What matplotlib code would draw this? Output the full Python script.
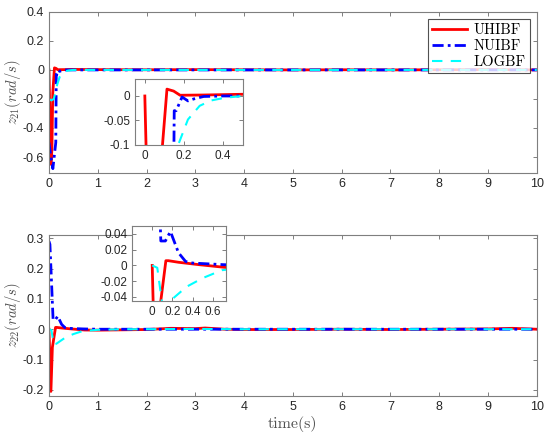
import matplotlib
matplotlib.use("Agg")
import matplotlib.pyplot as plt

plt.rcParams['font.family'] = ['Liberation Sans', 'DejaVu Sans']
plt.rcParams['mathtext.fontset'] = 'cm'
plt.rcParams['axes.unicode_minus'] = False

# ---- data: z21 ----
t21_red = [0, 0.04, 0.06, 0.078, 0.113, 0.147, 0.18, 0.3, 0.5, 1, 2, 3, 4, 5, 6, 7, 8, 9, 10]
z21_red = [0, -0.65, -0.55, -0.16, 0.014, 0.01, 0.0015, 0.002, 0.0035, 0.002, 0.001, 0.002, 0.001, 0.0, 0.001, 0.0, 0.001, 0.002, 0.0]
t21_blue = [0, 0.04, 0.08, 0.14, 0.15, 0.16, 0.19, 0.22, 0.25, 0.3, 0.4, 1, 2, 3, 4, 5, 6, 7, 8, 9, 10]
z21_blue = [-0.5, -0.6, -0.68, -0.5, -0.03, -0.03, -0.002, -0.01, -0.006, -0.001, 0.0, 0.0, 0.0, 0.0, 0.0, 0.0, 0.0, 0.0, 0.0, 0.0, 0.0]
t21_cyan = [0, 0.05, 0.1, 0.17, 0.22, 0.28, 0.34, 0.41, 0.5, 1, 2, 3, 4, 5, 6, 7, 8, 9, 10]
z21_cyan = [-0.2, -0.21, -0.2, -0.1, -0.048, -0.02, -0.009, -0.0035, 0.0, 0.0, 0.0, 0.0, 0.0, 0.0, 0.0, 0.0, 0.0, 0.0, 0.0]

# ---- data: z22 ----
t22_red = [0, 0.04, 0.07, 0.135, 0.16, 0.26, 0.46, 0.73, 1, 1.5, 2, 2.5, 3, 3.2, 3.6, 4, 5, 6, 7, 8, 9, 9.5, 10]
z22_red = [0, -0.205, -0.06, 0.006, 0.006, 0.004, 0.001, -0.0026, -0.003, -0.002, -0.001, 0.003, 0.002, 0.004, 0.0, -0.001, -0.001, 0.0, -0.001, 0.0, 0.001, 0.003, 0.0]
t22_blue = [0, 0.02, 0.085, 0.13, 0.18, 0.26, 0.33, 0.4, 0.7, 1, 2, 3, 4, 5, 6, 7, 8, 9, 10]
z22_blue = [0.29, 0.28, 0.031, 0.031, 0.043, 0.016, 0.005, 0.003, 0.001, 0.0, 0.0, 0.0, 0.0, 0.0, 0.0, 0.0, 0.0, 0.0, 0.0]
t22_cyan = [0, 0.05, 0.1, 0.15, 0.34, 0.5, 0.69, 1, 1.5, 2, 3, 4, 5, 6, 7, 8, 9, 10]
z22_cyan = [0, -0.003, -0.05, -0.048, -0.027, -0.016, -0.006, -0.002, 0.0, 0.0, 0.001, 0.0, 0.0, 0.0, 0.0, 0.0, 0.0, 0.0]

labels = ['UHIBF', 'NUIBF', 'LOGBF']
xticks = list(range(0, 11))

GRAY = '#262626'
SPINE = '#7f7f7f'
LABC = '#505050'

def style(ax, fs=9):
    for s in ax.spines.values():
        s.set_color(SPINE)
        s.set_linewidth(0.8)
    ax.tick_params(direction='in', top=True, right=True, colors=SPINE,
                   labelcolor=GRAY, labelsize=fs, length=3, width=0.7)

def draw(ax, data):
    (tr, yr), (tb, yb), (tc, yc) = data
    ax.plot(tr, yr, color='#ff0000', lw=2.0, ls='-', label=labels[0])
    ax.plot(tb, yb, color='#0000ff', lw=2.0, ls=(0, (4, 1.5, 1, 1.5)), label=labels[1])
    ax.plot(tc, yc, color='#00ffff', lw=1.5, ls=(0, (5, 4)), label=labels[2])

fig = plt.figure(figsize=(5.5, 4.38), dpi=100)

d21 = [(t21_red, z21_red), (t21_blue, z21_blue), (t21_cyan, z21_cyan)]
d22 = [(t22_red, z22_red), (t22_blue, z22_blue), (t22_cyan, z22_cyan)]

ax1 = fig.add_axes([0.089, 0.605, 0.887, 0.368])
draw(ax1, d21)
ax1.set_xlim(0, 10)
ax1.set_ylim(-0.71, 0.4)
ax1.set_xticks(xticks)
ax1.set_yticks([-0.6, -0.4, -0.2, 0, 0.2, 0.4])
ax1.set_yticklabels(['-0.6', '-0.4', '-0.2', '0', '0.2', '0.4'])
style(ax1)
ax1.set_ylabel(r'$z_{21}(rad/s)$', fontsize=10.5, color=LABC)
ax1.yaxis.set_label_coords(-0.054, 0.5)
leg = ax1.legend(loc='upper right', frameon=True, fancybox=False,
                 prop={'family': 'cmr10', 'size': 10.5},
                 edgecolor=GRAY, handlelength=2.4, borderaxespad=0.5,
                 handletextpad=0.4, labelspacing=0.15, borderpad=0.3)
leg.get_frame().set_linewidth(0.8)

ax2 = fig.add_axes([0.089, 0.096, 0.887, 0.367])
draw(ax2, d22)
ax2.set_xlim(0, 10)
ax2.set_ylim(-0.22, 0.31)
ax2.set_xticks(xticks)
ax2.set_yticks([-0.2, -0.1, 0, 0.1, 0.2, 0.3])
ax2.set_yticklabels(['-0.2', '-0.1', '0', '0.1', '0.2', '0.3'])
style(ax2)
ax2.set_ylabel(r'$z_{22}(rad/s)$', fontsize=10.5, color=LABC)
ax2.yaxis.set_label_coords(-0.054, 0.5)
ax2.set_xlabel('time(s)', fontsize=11.5, color=LABC, family='cmr10', labelpad=2)

# insets
in1 = fig.add_axes([0.2455, 0.669, 0.196, 0.151])
draw(in1, d21)
in1.set_xlim(-0.05, 0.5)
in1.set_ylim(-0.1, 0.035)
in1.set_xticks([0, 0.2, 0.4])
in1.set_xticklabels(['0', '0.2', '0.4'])
in1.set_yticks([-0.1, -0.05, 0])
in1.set_yticklabels(['-0.1', '-0.05', '0'])
style(in1, fs=8.5)

in2 = fig.add_axes([0.24, 0.313, 0.171, 0.171])
draw(in2, d22)
in2.set_xlim(-0.2, 0.73)
in2.set_ylim(-0.045, 0.05)
in2.set_xticks([0, 0.2, 0.4, 0.6])
in2.set_xticklabels(['0', '0.2', '0.4', '0.6'])
in2.set_yticks([-0.04, -0.02, 0, 0.02, 0.04])
in2.set_yticklabels(['-0.04', '-0.02', '0', '0.02', '0.04'])
style(in2, fs=8.5)

fig.savefig('out.png', dpi=100)
